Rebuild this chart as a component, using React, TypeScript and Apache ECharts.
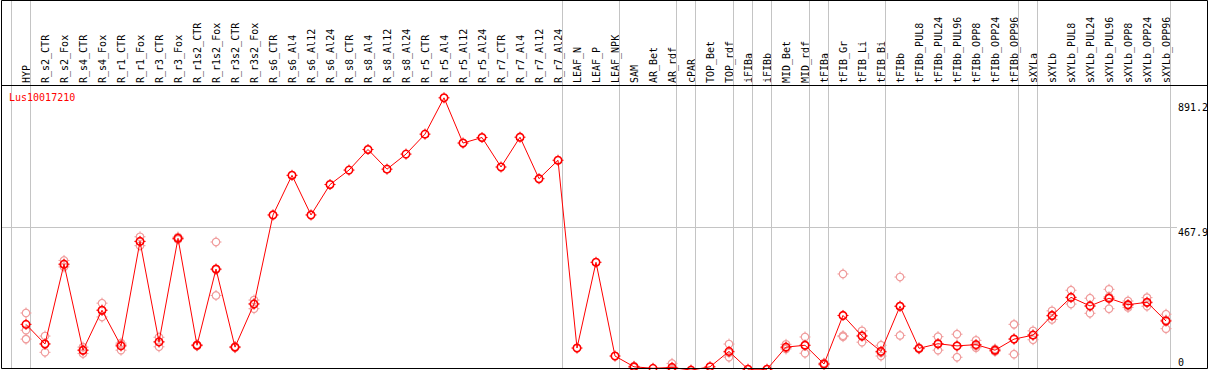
import React, { useEffect, useRef } from 'react';
import * as echarts from 'echarts';

const geneId = 'Lus10017210';

const categories = [
  'HYP', 'R_s2_CTR', 'R_s2_Fox', 'R_s4_CTR', 'R_s4_Fox', 'R_r1_CTR', 'R_r1_Fox', 'R_r3_CTR', 'R_r3_Fox',
  'R_r1s2_CTR', 'R_r1s2_Fox', 'R_r3s2_CTR', 'R_r3s2_Fox',
  'R_s6_CTR', 'R_s6_Al4', 'R_s6_Al12', 'R_s6_Al24',
  'R_s8_CTR', 'R_s8_Al4', 'R_s8_Al12', 'R_s8_Al24',
  'R_r5_CTR', 'R_r5_Al4', 'R_r5_Al12', 'R_r5_Al24',
  'R_r7_CTR', 'R_r7_Al4', 'R_r7_Al12', 'R_r7_Al24',
  'LEAF_N', 'LEAF_P', 'LEAF_NPK', 'SAM', 'AR_Bet', 'AR_rdf', 'cPAR', 'TOP_Bet', 'TOP_rdf',
  'iFIBa', 'iFIBb', 'MID_Bet', 'MID_rdf', 'tFIBa', 'tFIB_Gr', 'tFIB_Li', 'tFIB_Bi',
  'tFIBb', 'tFIBb_PUL8', 'tFIBb_PUL24', 'tFIBb_PUL96', 'tFIBb_OPP8', 'tFIBb_OPP24', 'tFIBb_OPP96',
  'sXYLa', 'sXYLb', 'sXYLb_PUL8', 'sXYLb_PUL24', 'sXYLb_PUL96', 'sXYLb_OPP8', 'sXYLb_OPP24', 'sXYLb_OPP96',
];

const meanValues = [
  154, 90, 350, 70, 200, 84, 424, 97, 434,
  86, 334, 80, 220,
  510, 639, 510, 609,
  656, 723, 659, 708,
  773, 891.2, 744, 762,
  666, 763, 628, 688,
  77, 356, 51, 16, 11, 14, 5, 16, 66,
  8, 8, 80, 86, 25, 183, 116, 66,
  213, 76, 91, 84, 88, 70, 106,
  119, 183, 242, 214, 239, 218, 226, 165,
];

const replicateA = [
  191, 116, 362, 80, 223, 93, 439, 112, 438,
  88, 422, 82, 233,
  null, null, null, null,
  null, null, null, null,
  null, null, null, null,
  null, null, null, null,
  null, null, null, 18, null, 27, null, null, 90,
  null, null, 89, 113, 28, 318, 133, 86,
  308, 78, 114, 122, 102, 74, 154,
  133, 198, 265, 239, 268, 230, 241, 187,
];

const replicateB = [
  135, 91, 348, 70, 200, 88, 424, 97, 434,
  86, 332, 80, 222,
  null, null, null, null,
  null, null, null, null,
  null, null, null, null,
  null, null, null, null,
  null, null, null, 16, null, 10, null, null, 62,
  null, null, 78, 86, 25, 117, 118, 62,
  213, 76, 90, 83, 84, 70, 107,
  120, 181, 241, 213, 244, 215, 224, 168,
];

const replicateC = [
  106, 63, 341, 59, 178, 70, 410, 81, 430,
  84, 248, 78, 205,
  null, null, null, null,
  null, null, null, null,
  null, null, null, null,
  null, null, null, null,
  null, null, null, 14, null, 5, null, null, 47,
  null, null, 74, 60, 22, 114, 96, 51,
  118, 74, 70, 47, 78, 66, 57,
  104, 170, 220, 190, 205, 209, 213, 140,
];

// index of the last category of each group (-1 = before the first one)
const groupEndIndices = [-1, 0, 28, 31, 34, 35, 37, 38, 39, 41, 42, 45, 52, 53, 60];

const yAxisMax = 891.2;
const markValues = [891.2, 467.9, 0];
const guideValues = [467.9];

const FONT_FAMILY = '"DejaVu Sans Mono", monospace';
const FONT = `10px ${FONT_FAMILY}`;
const MARK_LABEL_DY = [9.2, 4.5, -9.2];

const TICKS_PATH = 'path://M5.5,0V2.2M5.5,8.8V11M0,5.5H2.2M8.8,5.5H11';

export default function App() {
  const ref = useRef<HTMLDivElement>(null);

  useEffect(() => {
    if (!ref.current) return;
    const chart = echarts.init(ref.current, undefined, { renderer: 'svg' });

    const repData: number[][] = [];
    [replicateA, replicateB, replicateC].forEach((arr) =>
      arr.forEach((v, i) => {
        if (v != null) repData.push([i, v as number]);
      })
    );
    const meanData = meanValues.map((v, i) => [i, v]);

    const option: any = {
      animation: false,
      backgroundColor: '#ffffff',
      grid: {
        left: 16.5,
        top: 97.8,
        width: 1159,
        height: 273.9,
        containLabel: false,
        outerBoundsMode: 'none',
      },
      xAxis: {
        type: 'category',
        data: categories,
        position: 'top',
        offset: 12.8,
        boundaryGap: true,
        axisLine: { show: false },
        axisTick: { show: false },
        splitLine: { show: false },
        axisLabel: {
          interval: 0,
          rotate: 90,
          margin: 2,
          fontFamily: FONT_FAMILY,
          fontSize: 10,
          color: '#000000',
        },
      },
      yAxis: {
        type: 'value',
        min: 0,
        max: yAxisMax,
        show: false,
      },
      graphic: {
        elements: [
          {
            type: 'text',
            x: 9,
            y: 97,
            z: 50,
            style: {
              text: geneId,
              fill: '#ff0000',
              font: FONT,
              verticalAlign: 'middle',
              align: 'left',
            },
          },
          {
            type: 'rect',
            z: 100,
            shape: { x: 1.5, y: 0.5, width: 1206, height: 368 },
            style: { fill: 'none', stroke: '#000000', lineWidth: 1 },
          },
          {
            type: 'line',
            z: 100,
            shape: { x1: 1.5, y1: 85.5, x2: 1207.5, y2: 85.5 },
            style: { stroke: '#000000', lineWidth: 1 },
          },
        ],
      },
      series: [
        {
          type: 'custom',
          name: 'groups',
          silent: true,
          clip: false,
          z: 1,
          data: groupEndIndices.map((g) => [Math.max(g, 0), 0, g]),
          renderItem: (params: any, api: any) => {
            const g = api.value(2);
            const c0 = api.coord([0, 0])[0];
            const c1 = api.coord([1, 0])[0];
            const bw = c1 - c0;
            const cx = c0 + g * bw + bw * 0.25;
            const x = Math.floor(cx - 0.5) + 0.5;
            return {
              type: 'line',
              shape: { x1: x, y1: 0, x2: x, y2: 368 },
              style: { stroke: '#c4c4c4', lineWidth: 1 },
            };
          },
        },
        {
          type: 'custom',
          name: 'guides',
          silent: true,
          clip: false,
          z: 1,
          data: guideValues.map((v) => [0, v]),
          renderItem: (params: any, api: any) => {
            const y = Math.floor(api.coord([0, api.value(1)])[1]) + 0.5;
            return {
              type: 'line',
              shape: { x1: 1.5, y1: y, x2: 1177, y2: y },
              style: { stroke: '#c4c4c4', lineWidth: 1 },
            };
          },
        },
        {
          type: 'custom',
          name: 'marks',
          silent: true,
          clip: false,
          z: 5,
          data: markValues.map((v, k) => [0, v, k]),
          renderItem: (params: any, api: any) => {
            const v = api.value(1);
            const k = api.value(2);
            const y = api.coord([0, v])[1];
            return {
              type: 'text',
              x: 1178,
              y: y + MARK_LABEL_DY[k],
              style: {
                text: String(v),
                fill: '#000000',
                font: FONT,
                align: 'left',
                verticalAlign: 'middle',
              },
            };
          },
        },
        {
          type: 'scatter',
          name: 'replicates',
          silent: true,
          clip: false,
          z: 2,
          data: repData,
          symbol: 'circle',
          symbolSize: 7.5,
          itemStyle: {
            color: 'none',
            borderColor: '#f09c9c',
            borderWidth: 1.2,
            opacity: 1,
          },
        },
        {
          type: 'scatter',
          name: 'replicate ticks',
          silent: true,
          clip: false,
          z: 2,
          data: repData,
          symbol: TICKS_PATH,
          symbolSize: 11,
          itemStyle: {
            color: 'none',
            borderColor: '#f09c9c',
            borderWidth: 1,
            opacity: 1,
          },
        },
        {
          type: 'line',
          name: geneId,
          silent: true,
          clip: false,
          z: 3,
          data: meanValues,
          symbol: 'circle',
          symbolSize: 7.5,
          showSymbol: true,
          showAllSymbol: true,
          lineStyle: { color: '#ff0000', width: 1 },
          itemStyle: {
            color: 'none',
            borderColor: '#ff0000',
            borderWidth: 1.6,
          },
        },
        {
          type: 'scatter',
          name: 'mean ticks',
          silent: true,
          clip: false,
          z: 4,
          data: meanData,
          symbol: TICKS_PATH,
          symbolSize: 11,
          itemStyle: {
            color: 'none',
            borderColor: '#ff0000',
            borderWidth: 1,
            opacity: 1,
          },
        },
      ],
    };

    chart.setOption(option);
    return () => {
      chart.dispose();
    };
  }, []);

  return (
    <div
      ref={ref}
      style={{ position: 'fixed', left: 0, top: 0, width: 1209, height: 372, background: '#fff' }}
    />
  );
}
